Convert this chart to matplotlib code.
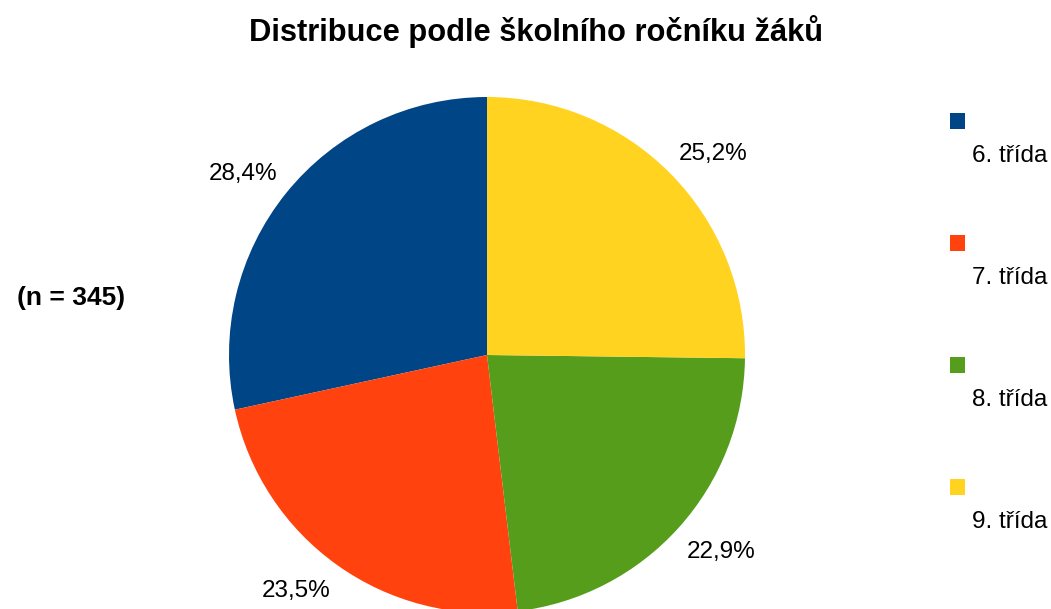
import matplotlib
matplotlib.use("Agg")
import numpy as np
import matplotlib.pyplot as plt
import matplotlib.patches as patches

plt.rcParams['font.family'] = ['Liberation Sans', 'DejaVu Sans']

# data
categories = ["6. třída", "7. třída", "8. třída", "9. třída"]
shares = [28.4, 23.5, 22.9, 25.2]
colors = ["#004586", "#ff420e", "#579d1c", "#ffd320"]
title = "Distribuce podle školního ročníku žáků"
note = "(n = 345)"

W, H = 1051, 609
fig = plt.figure(figsize=(W / 100, H / 100), dpi=100)
ax = fig.add_axes([0, 0, 1, 1])

# pie in pixel coords (y measured from bottom)
cx, cy, R = 487, H - 355, 258
wedges, _ = ax.pie(shares, colors=colors, startangle=90, counterclock=True,
                   center=(cx, cy), radius=R, frame=True,
                   wedgeprops=dict(linewidth=0))
ax.set_xlim(0, W)
ax.set_ylim(0, H)
ax.set_aspect("equal")
ax.axis("off")

# percentage labels: nearest box corner sits just outside the rim
for w, v in zip(wedges, shares):
    mid = np.deg2rad((w.theta1 + w.theta2) / 2)
    c, s = np.cos(mid), np.sin(mid)
    ax.text(cx + (R + 11) * c, cy + (R + 11) * s + 6 * np.sign(s),
            f"{v:.1f}".replace(".", ",") + "%",
            ha="left" if c > 0 else "right",
            va="baseline" if s > 0 else "top",
            fontsize=17.5, color="black")

ax.text(536, H - 32, title, ha="center", va="center",
        fontsize=22.2, fontweight="bold")
ax.text(71, H - 298, note, ha="center", va="center",
        fontsize=19, fontweight="bold")

# legend: square above label
for i, (lab, col) in enumerate(zip(categories, colors)):
    y0 = 121 + i * 122
    ax.add_patch(patches.Rectangle((950, H - y0 - 8), 15, 16,
                                   facecolor=col, edgecolor="none"))
    ax.text(972, H - (y0 + 35), lab, ha="left", va="center", fontsize=17.5)

fig.savefig("out.png", dpi=100)
